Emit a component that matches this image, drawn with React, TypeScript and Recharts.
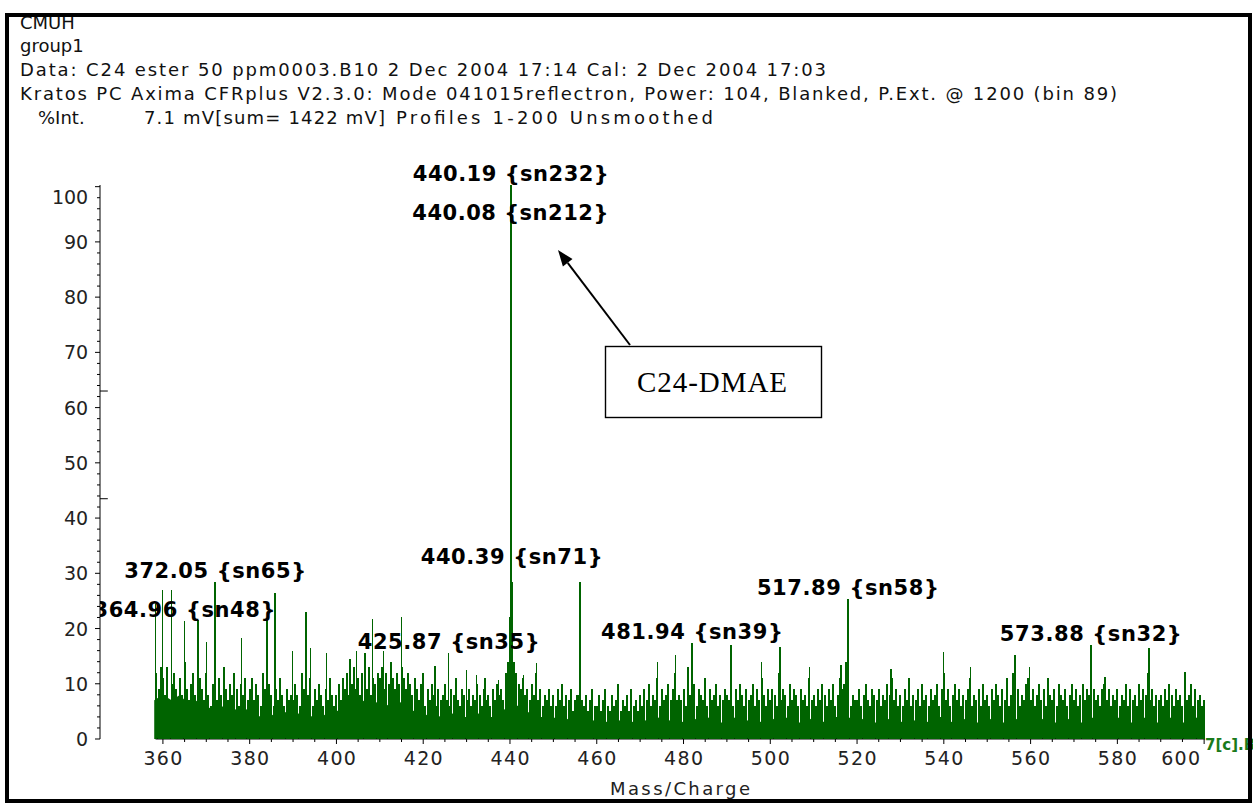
import React from "react";
import { ComposedChart, Area, Scatter, XAxis, YAxis, ReferenceLine } from "recharts";

const W = 1253;
const H = 804;
const PLOT_BOTTOM = 739;
const GREEN = "#006400";
const FONT = "'DejaVu Sans', Verdana, sans-serif";

// m/z range of the x axis (axis line starts where the trace starts)
const MZ_MIN = 345.5;
const MZ_MAX = 600.2;
const TRACE_START = 358.3;

const X_MAJOR = [360, 380, 400, 420, 440, 460, 480, 500, 520, 540, 560, 580, 600];
const Y_MAJOR = [0, 10, 20, 30, 40, 50, 60, 70, 80, 90, 100];

// noise sticks, one every 0.5 m/z from 358.5
const STICK_START = 358.5;
const STICK_STEP = 0.5;
const STICKS = [
  12, 9, 13,
  11, 8, 13, 7, 10, 12, 9, 6, 11, 8, 14, 9, 7, 10, 12, 8, 6, 11, 9, 7,
  12, 8, 6, 10, 9, 7, 11, 8, 13, 9, 7, 10, 8, 12, 9, 6, 10, 8, 11, 7,
  9, 11, 7, 10, 8, 6, 12, 9, 7, 10, 8, 6, 9, 7, 11, 8, 6, 9, 7, 8,
  7, 10, 8, 6, 12, 9, 7, 8, 11, 6, 9, 7, 10, 8, 6, 9, 7, 11, 8, 6,
  8, 10, 7, 11, 9, 12, 8, 10, 13, 9, 11, 8, 12, 10, 9, 13, 8, 11, 10, 12,
  11, 13, 9, 12, 10, 14, 11, 9, 12, 10, 13, 11, 9, 12, 10, 8, 11, 9, 7, 10,
  8, 6, 9, 7, 10, 8, 6, 9, 7, 8, 10, 7, 6, 9, 8, 11, 7, 6, 9, 8,
  7, 9, 6, 8, 7, 10, 8, 6, 9, 7, 8, 6, 9, 7, 10, 8, 9, 7, 12, 14,
  16, 26, 14, 12, 10, 9, 11, 8, 9, 7, 10, 8, 12, 7, 9, 6, 8, 7, 9, 6,
  8, 6, 9, 7, 10, 6, 8, 7, 9, 5, 7, 8, 8, 7, 6, 8, 5, 7, 9, 6,
  6, 8, 5, 7, 9, 6, 5, 8, 6, 7, 10, 5, 7, 6, 8, 5, 9, 6, 7, 5,
  8, 6, 9, 7, 10, 6, 8, 7, 11, 6, 9, 7, 8, 10, 7, 9, 12, 7, 8, 7,
  9, 6, 13, 8, 7, 10, 6, 9, 8, 7, 11, 6, 9, 7, 8, 10, 6, 8, 7, 9,
  8, 7, 12, 6, 9, 7, 10, 8, 6, 9, 7, 8, 10, 6, 9, 7, 11, 8, 6, 9,
  7, 9, 8, 6, 12, 7, 9, 8, 6, 10, 7, 9, 8, 6, 9, 7, 8, 6, 11, 7,
  8, 6, 9, 7, 10, 8, 6, 9, 7, 10, 6, 8, 11, 9, 10, 14, 7, 6, 8, 7,
  7, 9, 6, 8, 10, 7, 6, 9, 8, 7, 9, 6, 8, 7, 10, 8, 11, 7, 9, 6,
  8, 6, 9, 7, 11, 6, 8, 7, 9, 6, 10, 7, 8, 6, 9, 7, 8, 10, 6, 9,
  12, 7, 9, 6, 8, 10, 7, 9, 6, 8, 7, 9, 11, 6, 8, 7, 9, 6, 10, 7,
  8, 6, 9, 7, 10, 8, 6, 9, 7, 11, 6, 8, 12, 7, 9, 6, 8, 7, 10, 11,
  7, 9, 6, 8, 10, 7, 9, 6, 11, 8, 7, 9, 6, 10, 8, 7, 9, 6, 8, 10,
  7, 9, 6, 8, 10, 7, 9, 8, 6, 9, 7, 8, 6, 9, 10, 7, 9, 6, 8, 7,
  9, 6, 8, 7, 10, 6, 9, 7, 8, 6, 10, 7, 9, 8, 12, 7, 9, 6, 8, 7,
  8, 6, 9, 7, 10, 8, 6, 9, 7, 8, 6, 10, 7, 8, 10, 6, 9, 7, 8, 6,
  7,
];

// solid noise floor, every 2 m/z from 358
const BASE_START = 358;
const BASE_STEP = 2;
const BASE = [
  7, 8, 7, 8, 6, 7, 6, 5, 6, 5,
  6, 5, 4, 5, 4, 5, 4, 5, 4, 5,
  4, 5, 6, 5, 7, 6, 7, 6, 7, 6,
  5, 4, 5, 4, 5, 4, 4, 5, 4, 4,
  5, 6, 6, 5, 4, 4, 4, 3, 4, 3,
  4, 3, 3, 4, 3, 3, 4, 3, 4, 3,
  4, 3, 4, 3, 4, 3, 3, 4, 3, 4,
  3, 4, 3, 4, 3, 3, 4, 3, 4, 4,
  4, 3, 4, 3, 3, 4, 3, 4, 3, 3,
  4, 4, 3, 4, 3, 3, 4, 3, 3, 4,
  3, 3, 4, 3, 3, 4, 3, 3, 4, 3,
  3, 4, 3, 3, 4, 3, 3, 4, 3, 3,
  4, 3,
];

// prominent lines [m/z, %Int]
const PEAKS: [number, number][] = [
  [358.35, 24.5], [359.9, 26.9], [362.0, 26.9], [364.96, 21.3], [368.1, 21.5],
  [370.1, 17.6], [372.05, 28.4], [378.1, 18.2], [384.0, 21.5], [385.8, 26.4],
  [389.9, 16], [393.0, 23.0], [394.0, 16.5], [397.7, 15.6], [403.1, 14.5],
  [404.6, 16], [406.6, 15.5], [408.3, 21.8], [410.8, 16], [415.0, 22.1],
  [420.0, 12], [422.7, 13.3], [425.87, 15.5], [430.0, 12.5], [432.3, 11.5],
  [434.2, 11], [437.3, 10.7], [439.97, 22], [440.08, 80.5], [440.19, 100.3],
  [440.3, 50.4], [440.39, 31], [440.6, 28.5], [443.1, 11.5], [446.1, 13.7],
  [456.1, 28.5], [474.0, 14], [478.2, 15.2], [481.94, 17.3], [491.0, 17.0],
  [498.0, 14], [502.2, 16.7], [509.0, 13], [516.3, 13.4], [517.89, 25.4],
  [527.8, 12.7], [539.9, 15.8], [546.2, 13], [556.4, 15.2], [559.8, 13],
  [573.88, 17], [577.2, 11.3], [587.3, 16.5], [595.6, 12.2],
];

const PEAK_LABELS: [number, string][] = [
  [440.19, "440.19 {sn232}"],
  [440.08, "440.08 {sn212}"],
  [440.39, "440.39 {sn71}"],
  [372.05, "372.05 {sn65}"],
  [364.96, "364.96 {sn48}"],
  [425.87, "425.87 {sn35}"],
  [481.94, "481.94 {sn39}"],
  [517.89, "517.89 {sn58}"],
  [573.88, "573.88 {sn32}"],
];
// the 440.08 label is stacked under the 440.19 one
const STACKED_LABEL = "440.08 {sn212}";

// little cursor marks on the right side of the y axis
const CURSOR_MARKS = [63, 43.5];

const stickRows = STICKS.map((v, i) => ({ mz: STICK_START + i * STICK_STEP, v }));
const baseRows = BASE.map((v, i) => ({ mz: BASE_START + i * BASE_STEP, v }));
const peakRows = PEAKS.map(([mz, v]) => ({ mz, v }));
const labelRows = PEAK_LABELS.map(([mz, text]) => {
  const hit = PEAKS.find((p) => p[0] === mz);
  return { mz, v: hit ? hit[1] : 0, text };
});

const xTicks: number[] = [];
for (let t = 360; t <= 600; t += 5) xTicks.push(t);
const yTicks: number[] = [];
for (let t = 0; t <= 100; t += 2) yTicks.push(t);

const XTick = (p: any) => {
  const { x, y, payload } = p;
  const v = payload.value;
  const major = X_MAJOR.includes(v);
  const last = v === 600;
  return (
    <g>
      <line x1={x} x2={x} y1={y} y2={y + (major ? 5 : 3)} stroke="#000" />
      {major && (
        <text
          x={last ? x - 4 : x}
          y={y + 26}
          textAnchor={last ? "end" : "middle"}
          fontSize={19}
          fontFamily={FONT}
          fill="#222"
          textLength={39}
          lengthAdjust="spacing"
        >
          {v}
        </text>
      )}
    </g>
  );
};

const YTick = (p: any) => {
  const { x, y, payload } = p;
  const v = payload.value;
  const major = Y_MAJOR.includes(v);
  const s = String(v);
  return (
    <g>
      <line x1={x} x2={x - (major ? 5 : 3)} y1={y} y2={y} stroke="#000" />
      {major && (
        <text
          x={x - 12}
          y={y + 7 + (v === 100 ? 10 : 0)}
          textAnchor="end"
          fontSize={19}
          fontFamily={FONT}
          fill="#222"
          textLength={12 * s.length}
          lengthAdjust="spacing"
        >
          {s}
        </text>
      )}
    </g>
  );
};

const stickShape = (p: any) => (
  <line
    x1={p.cx}
    x2={p.cx}
    y1={p.cy}
    y2={PLOT_BOTTOM}
    stroke={GREEN}
    strokeWidth={2}
    shapeRendering="crispEdges"
  />
);

const peakShape = (p: any) => (
  <line
    x1={p.cx}
    x2={p.cx}
    y1={p.cy}
    y2={PLOT_BOTTOM}
    stroke={GREEN}
    strokeWidth={1.5}
    shapeRendering="crispEdges"
  />
);

const labelShape = (p: any) => {
  const { cx, cy, payload } = p;
  const text: string = payload.text;
  const dy = text === STACKED_LABEL ? -82 : -12;
  return (
    <text
      x={cx}
      y={cy + dy + 8}
      textAnchor="middle"
      fontSize={21}
      fontWeight="bold"
      fontFamily={FONT}
      fill="#000"
      textLength={14 * text.length}
      lengthAdjust="spacing"
      clipPath="url(#plot-clip)"
    >
      {text}
    </text>
  );
};

// [text, x, baseline y, stretched width or 0 for natural]
const HEADER: [string, number, number, number][] = [
  ["CMUH", 20, 29, 0],
  ["group1", 20, 52, 0],
  ["Data: C24 ester 50 ppm0003.B10 2 Dec 2004 17:14 Cal: 2 Dec 2004 17:03", 20, 76, 806],
  ["Kratos PC Axima CFRplus V2.3.0: Mode 041015reflectron, Power: 104, Blanked, P.Ext. @ 1200 (bin 89)", 20, 100, 1097],
  ["%Int.", 38, 124, 0],
  ["7.1 mV[sum= 1422 mV]", 144, 124, 241],
  ["Profiles 1-200 Unsmoothed", 396, 124, 317],
];

export default function App() {
  return (
    <div style={{ position: "absolute", left: 0, top: 0, width: W, height: H, background: "#fff" }}>
      <svg width={0} height={0} style={{ position: "absolute" }}>
        <defs>
          <clipPath id="plot-clip" clipPathUnits="userSpaceOnUse">
            <rect x={100} y={0} width={W - 100} height={H} />
          </clipPath>
        </defs>
      </svg>
      <ComposedChart
        width={W}
        height={H}
        data={baseRows}
        margin={{ top: 185, right: 48, bottom: 0, left: 0 }}
      >
        <XAxis
          dataKey="mz"
          type="number"
          domain={[MZ_MIN, MZ_MAX]}
          ticks={xTicks}
          interval={0}
          height={65}
          axisLine={false}
          tickLine={false}
          tickSize={0}
          tickMargin={0}
          tick={(p: any) => <XTick {...p} />}
        />
        <YAxis
          dataKey="v"
          type="number"
          domain={[0, 100]}
          ticks={yTicks}
          interval={0}
          width={100}
          axisLine={{ stroke: "#000" }}
          tickLine={false}
          tickSize={0}
          tickMargin={0}
          tick={(p: any) => <YTick {...p} />}
        />
        <Area
          dataKey="v"
          type="linear"
          stroke="none"
          fill={GREEN}
          fillOpacity={1}
          isAnimationActive={false}
          dot={false}
          activeDot={false}
        />
        <Scatter data={stickRows} shape={stickShape} isAnimationActive={false} />
        <Scatter data={peakRows} shape={peakShape} isAnimationActive={false} />
        <Scatter data={labelRows} shape={labelShape} isAnimationActive={false} />
        <ReferenceLine
          segment={[
            { x: TRACE_START, y: 0 },
            { x: MZ_MAX, y: 0 },
          ]}
          stroke="#000"
          strokeWidth={1.2}
        />
        {CURSOR_MARKS.map((m) => (
          <ReferenceLine
            key={m}
            segment={[
              { x: MZ_MIN, y: m },
              { x: MZ_MIN + 1.8, y: m },
            ]}
            stroke="#000"
          />
        ))}
      </ComposedChart>

      <svg
        width={W}
        height={H}
        style={{ position: "absolute", left: 0, top: 0, pointerEvents: "none" }}
      >
        {HEADER.map(([t, x, y, len]) => (
          <text
            key={t}
            x={x}
            y={y}
            fontSize={18}
            fontFamily={FONT}
            fill="#111"
            textLength={len || undefined}
            lengthAdjust={len ? "spacing" : undefined}
          >
            {t}
          </text>
        ))}
        <text
          x={680}
          y={795}
          textAnchor="middle"
          fontSize={18}
          fontFamily={FONT}
          fill="#222"
          textLength={140}
          lengthAdjust="spacing"
        >
          Mass/Charge
        </text>
        <text x={1205} y={750} fontSize={15} fontWeight="bold" fontFamily={FONT} fill="#1a7a1a">
          7[c].B10
        </text>

        {/* annotation */}
        <line x1={630} y1={345} x2={567.7} y2={262.8} stroke="#000" strokeWidth={2} />
        <polygon points="558,250 572.5,259.1 562.9,266.4" fill="#000" />
        <rect x={605.5} y={346.5} width={216} height={71} fill="#fff" stroke="#000" strokeWidth={1.4} />
        <text
          x={712}
          y={392}
          textAnchor="middle"
          fontSize={29}
          fontFamily="'Liberation Serif', 'Times New Roman', serif"
          fill="#000"
          textLength={150}
          lengthAdjust="spacing"
        >
          C24-DMAE
        </text>

        <rect x={7} y={15} width={1243} height={786} fill="none" stroke="#000" strokeWidth={4} />
      </svg>
    </div>
  );
}
